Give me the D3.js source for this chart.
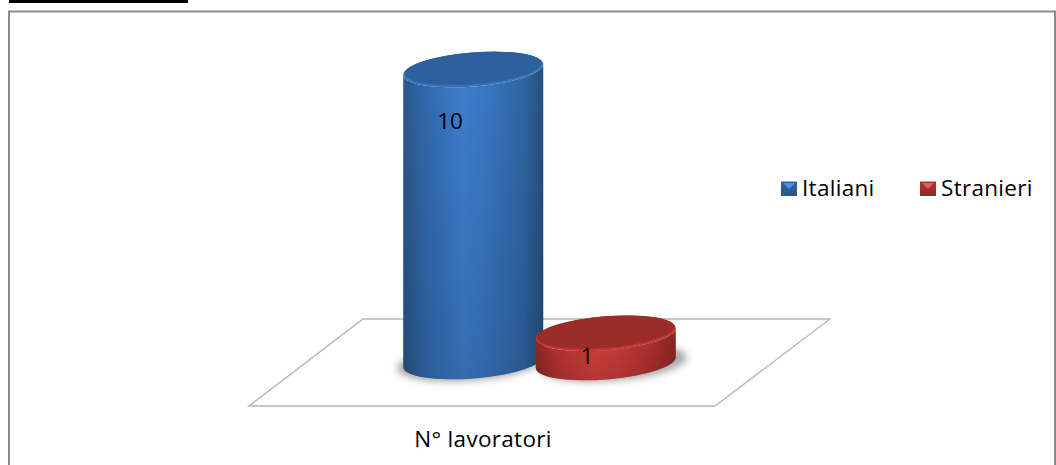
<!DOCTYPE html>
<html><head><meta charset="utf-8">
<script src="https://cdn.jsdelivr.net/npm/d3@7"></script>
<style>html,body{margin:0;padding:0;background:#fff}svg{display:block}text{font-family:"Open Sans",Lato,sans-serif;fill:#000}</style>
</head><body><svg id="c" width="1056" height="465"></svg>
<script>
const seriesNames=["Italiani","Stranieri"];
const seriesValues=[10,1];
const categoryLabel="N° lavoratori";
const shades=[
 {mid:"#4f8fdc",leg:"#2a62a6",rim:"#3872b8",top:"#2d609c",side:["#2b5687","#3068ab","#3d7ecd","#3a78c4","#2f66a4","#264f7e"]},
 {mid:"#e0605c",leg:"#b03230",rim:"#c23633",top:"#9c2c28",side:["#8f2826","#b43331","#d2403d","#cc3c39","#a92f2d","#8a2523"]}
];
const svg=d3.select("#c");
const defs=svg.append("defs");
const blur=defs.append("filter").attr("id","sh").attr("x","-20%").attr("y","-50%").attr("width","140%").attr("height","200%");
blur.append("feGaussianBlur").attr("stdDeviation",3.5);
const dark=defs.append("linearGradient").attr("id","dk").attr("x1",0).attr("x2",0).attr("y1",0).attr("y2",1);
dark.append("stop").attr("offset",0).attr("stop-color","#000").attr("stop-opacity",0);
dark.append("stop").attr("offset",1).attr("stop-color","#000").attr("stop-opacity",.14);

svg.append("rect").attr("x",9).attr("y",0).attr("width",179).attr("height",3).attr("fill","#000");
svg.append("path").attr("d",d3.line()([[9,465],[9,11.5],[1055,11.5],[1055,465]])).attr("fill","none").attr("stroke","#8c8c8c").attr("stroke-width",2);
svg.append("path").attr("d",d3.line()([[249,406],[715,406],[830,319],[363,319]])+"Z").attr("fill","#fff").attr("stroke","#b5b5b5").attr("stroke-width",1.3);

const x=d3.scaleBand().domain(seriesNames).range([403,676]).paddingInner(-0.06).paddingOuter(0);
const h=d3.scaleLinear().domain([0,10]).range([0,292]);
const ry=17, rot=-4.6;
const baseY=[361.5,362.5];
const cr=Math.cos(rot*Math.PI/180), sr=Math.sin(rot*Math.PI/180);
const labelPos=[[450,129],[587,364]];
const fs=22.5, ls=0.3;

const g=svg.selectAll("g.bar").data(seriesNames).join("g").attr("class","bar");
g.each(function(n,i){
  const s=d3.select(this), v=seriesValues[i], c=shades[i];
  const bw=x.bandwidth(), cx=x(n)+bw/2, rx=bw/2;
  const cy=baseY[i], ht=h(v);
  const lx=cx-rx*cr, ly=cy-rx*sr, rxx=cx+rx*cr, ry2=cy+rx*sr;
  const grad=defs.append("linearGradient").attr("id","g"+i);
  c.side.forEach((col,k)=>grad.append("stop").attr("offset",[0,.14,.42,.58,.86,1][k]).attr("stop-color",col));
  s.append("ellipse").attr("cx",cx+(i==0?-2:7)).attr("cy",cy+1).attr("rx",rx+4).attr("ry",ry+1)
   .attr("transform",`rotate(${rot} ${cx} ${cy})`).attr("fill","#555").attr("opacity",.5).attr("filter","url(#sh)");
  const body=`M${lx},${ly-ht}L${lx},${ly}A${rx},${ry} ${rot} 0 0 ${rxx},${ry2}L${rxx},${ry2-ht}A${rx},${ry} ${rot} 0 1 ${lx},${ly-ht}Z`;
  s.append("path").attr("fill",`url(#g${i})`).attr("d",body);
  s.append("path").attr("fill","url(#dk)").attr("d",body);
  s.append("ellipse").attr("cx",cx).attr("cy",cy-ht).attr("rx",rx).attr("ry",ry)
   .attr("transform",`rotate(${rot} ${cx} ${cy-ht})`).attr("fill",c.rim);
  s.append("ellipse").attr("cx",cx).attr("cy",cy-ht-1.2).attr("rx",rx-1.5).attr("ry",ry-1.2)
   .attr("transform",`rotate(${rot} ${cx} ${cy-ht-1.2})`).attr("fill",c.top);
  s.append("text").attr("x",labelPos[i][0]).attr("y",labelPos[i][1]).attr("text-anchor","middle").attr("font-size",fs).text(v);
});

const lgX=[781,920];
const lg=svg.selectAll("g.lg").data(seriesNames).join("g").attr("class","lg");
lg.each(function(n,i){
  const s=d3.select(this),c=shades[i],x0=lgX[i];
  const id="lg"+i;
  const gr=defs.append("linearGradient").attr("id",id).attr("x1",0).attr("x2",0).attr("y1",0).attr("y2",1);
  gr.append("stop").attr("offset",0).attr("stop-color",c.leg);
  gr.append("stop").attr("offset",1).attr("stop-color",c.side[0]);
  s.append("rect").attr("x",x0).attr("y",181.5).attr("width",16).attr("height",14.5).attr("fill",`url(#${id})`);
  s.append("path").attr("d",d3.line()([[x0+2,183],[x0+14,183],[x0+8,189]])+"Z").attr("fill",c.mid);
  s.append("text").attr("x",x0+21).attr("y",196).attr("font-size",fs).attr("letter-spacing",ls).text(n);
});
svg.append("text").attr("x",483).attr("y",447).attr("text-anchor","middle").attr("font-size",fs).attr("letter-spacing",ls).text(categoryLabel);
</script></body></html>
